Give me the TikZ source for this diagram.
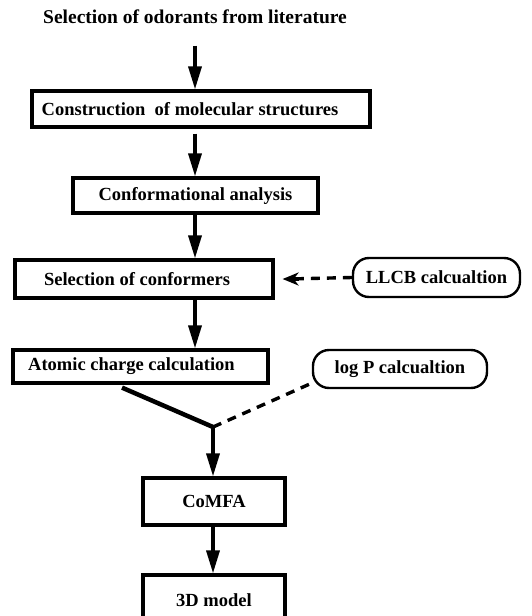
\documentclass[tikz,border=0pt]{standalone}
\usepackage{fontspec}
\setmainfont{Liberation Serif}
\usetikzlibrary{arrows.meta}
\begin{document}
\begin{tikzpicture}[x=1pt,y=-1pt,
  every node/.style={font=\fontsize{18.5}{20}\selectfont\bfseries},
  stepbox/.style={draw,line width=3.2pt,inner sep=0pt},
  roundbox/.style={draw,line width=2.4pt,rounded corners=16pt,inner sep=0pt},
  arr/.style={line width=3.4pt,-{Triangle[length=23pt,width=13pt]}},
  dashline/.style={line width=3.4pt,dash pattern=on 9pt off 7pt},
  thick line/.style={line width=4.5pt}]
\useasboundingbox (0,0) rectangle (531,616);
\clip (0,0) rectangle (531,616);
\node (title) at (195,17) {\fontsize{19.5}{21}\selectfont Selection of odorants from literature};
\node[stepbox,minimum width=338pt,minimum height=36pt] (b1) at (201,109) {\hspace*{-22pt}Construction\ \ of molecular structures};
\node[stepbox,minimum width=245pt,minimum height=35pt] (b2) at (195.5,195.5) {Conformational analysis};
\node[stepbox,minimum width=258pt,minimum height=38pt] (b3) at (144,279) {\hspace*{-14pt}Selection of conformers};
\node[roundbox,minimum width=167pt,minimum height=39pt] (llcb) at (436.5,277.5) {LLCB calcualtion};
\node[stepbox,minimum width=255pt,minimum height=33pt] (b4) at (140.5,366.5) {\hspace*{-18pt}Atomic charge calculation};
\node[roundbox,minimum width=174pt,minimum height=38pt] (logp) at (400,369) {log P calcualtion};
\node[stepbox,minimum width=142pt,minimum height=47pt] (b5) at (214,501.5) {CoMFA};
\node[stepbox,minimum width=142pt,minimum height=50pt] (b6) at (214,600) {3D model};
\coordinate (J) at (213,427);
\coordinate (L) at (312,383);
\draw[arr] ([yshift=-18pt]title.south) -- (title.south |- b1.north);
\draw[arr] ([yshift=-5pt]b1.south -| title.south) -- (title.south |- b2.north);
\draw[arr] (b2.south -| title.south) -- (title.south |- b3.north);
\draw[arr] (b3.south -| title.south) -- (title.south |- b4.north);
\draw[dashline] (llcb.west) -- ([xshift=14pt]b3.east);
\draw[line width=3.4pt,-{Stealth[length=16pt,width=13pt,inset=5pt]}] ([xshift=24pt]b3.east) -- ([xshift=8pt]b3.east);
\draw[thick line,line join=round] ([xshift=-18.5pt,yshift=-3pt]b4.south) -- (J);
\draw[dashline] (J) -- (L);
\draw[arr] (J) -- (J |- b5.north);
\draw[arr] (b5.south -| J) -- (J |- b6.north);
\end{tikzpicture}
\end{document}
